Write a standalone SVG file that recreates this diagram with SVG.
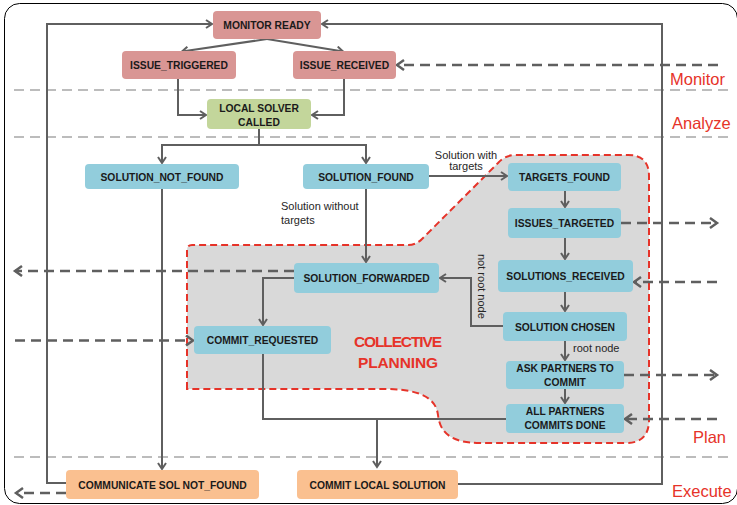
<svg xmlns="http://www.w3.org/2000/svg" width="737" height="505" viewBox="0 0 737 505">
<style>
.node rect{stroke:none}
.pk{fill:#d99694}.gr{fill:#c3d69b}.bl{fill:#92cddc}.or{fill:#fac090}
.nt{font-family:"Liberation Sans",Arial,sans-serif;font-weight:bold;font-size:10.3px;fill:#1a1a1a;text-anchor:middle}
.lb{font-family:"Liberation Sans",Arial,sans-serif;font-size:11px;fill:#262626}
.lane{stroke:#a6a6a6;stroke-width:1.5;stroke-dasharray:10 6;fill:none}
.ln{font-family:"Liberation Sans",Arial,sans-serif;font-size:16.5px;fill:#e63329}
.c{fill:none;stroke:#5f5f5f;stroke-width:2}
.d{fill:none;stroke:#5f5f5f;stroke-width:2.5;stroke-dasharray:10 6}
</style>
<defs>
<marker id="ah" markerUnits="userSpaceOnUse" markerWidth="12" markerHeight="12" refX="7" refY="5" orient="auto"><path d="M1,1 L7,5 L1,9" fill="none" stroke="#5f5f5f" stroke-width="2"/></marker>
<marker id="ahd" markerUnits="userSpaceOnUse" markerWidth="14" markerHeight="14" refX="8" refY="6" orient="auto"><path d="M1,1 L8,6 L1,11" fill="none" stroke="#5f5f5f" stroke-width="2.5"/></marker>
</defs>
<rect x="4.5" y="3.5" width="733" height="500" rx="15" fill="#fff" stroke="#000" stroke-width="1"/>
<g id="lanes">
<line class="lane" x1="14" y1="90" x2="728" y2="90"/>
<line class="lane" x1="14" y1="137" x2="728" y2="137"/>
<line class="lane" x1="14" y1="457" x2="728" y2="457"/>
<text class="ln" x="670" y="85">Monitor</text>
<text class="ln" x="672" y="129">Analyze</text>
<text class="ln" x="693" y="443">Plan</text>
<text class="ln" x="672" y="497">Execute</text>
</g>
<g id="collective">
<path d="M187,389 L187,250 Q187,245 192,245 L408,245 Q416,245 422,239 L498,163 Q505,155 516,155 L628,155 Q649,155 649,176 L649,420 Q649,443 626,443 L480,443 C450,443 440,432 438,415 C436,398 420,390 390,389 Z" fill="#d9d9d9" stroke="#e63329" stroke-width="2" stroke-dasharray="7 4"/>
<text x="398" y="347" font-family="Liberation Sans,Arial,sans-serif" font-weight="bold" font-size="15.5" fill="#e63329" text-anchor="middle" textLength="88">COLLECTIVE</text>
<text x="398" y="368" font-family="Liberation Sans,Arial,sans-serif" font-weight="bold" font-size="15.5" fill="#e63329" text-anchor="middle" textLength="80">PLANNING</text>
</g>
<g id="connectors">
<path class="c" d="M267,39 L182,51.5" marker-end="url(#ah)"/>
<path class="c" d="M267,39 L343,51.5" marker-end="url(#ah)"/>
<path class="c" d="M178,79 L178,115 L206,115" marker-end="url(#ah)"/>
<path class="c" d="M344,79 L344,115 L312,115" marker-end="url(#ah)"/>
<path class="c" d="M259,129 L259,145 L162,145 L162,163" marker-end="url(#ah)"/>
<path class="c" d="M259,145 L366,145 L366,163" marker-end="url(#ah)"/>
<path class="c" d="M66,483 L47,483 L47,24 L212,24" marker-end="url(#ah)"/>
<path class="c" d="M458,484 L662,484 L662,24 L322,24" marker-end="url(#ah)"/>
<path class="d" d="M718,65 L397,65" marker-end="url(#ahd)"/>
<path class="c" d="M429,176 L507,176" marker-end="url(#ah)"/>
<text class="lb" x="466" y="159" text-anchor="middle" font-size="10.5">Solution with</text>
<text class="lb" x="466" y="170" text-anchor="middle" font-size="10.5">targets</text>
<path class="c" d="M565,191 L565,207" marker-end="url(#ah)"/>
<path class="d" d="M621,223 L717,223" marker-end="url(#ahd)"/>
<path class="c" d="M565,238 L565,259" marker-end="url(#ah)"/>
<path class="d" d="M717,282 L634,282" marker-end="url(#ahd)"/>
<path class="c" d="M565,292 L565,311" marker-end="url(#ah)"/>
<path class="c" d="M503,326 L471,326 L471,278 L440,278" marker-end="url(#ah)"/>
<text class="lb" x="477.5" y="254" transform="rotate(90 477.5 254)" font-size="10.5">not root node</text>
<path class="c" d="M366,189 L366,262" marker-end="url(#ah)"/>
<text class="lb" x="281" y="210">Solution without</text>
<text class="lb" x="281" y="224">targets</text>
<path class="d" d="M294,271 L15,271" marker-end="url(#ahd)"/>
<path class="c" d="M294,278 L263,278 L263,325" marker-end="url(#ah)"/>
<path class="d" d="M15,340.5 L193,340.5" marker-end="url(#ahd)"/>
<path class="c" d="M565,341 L565,360" marker-end="url(#ah)"/>
<text class="lb" x="573" y="352" font-size="10.5">root node</text>
<path class="c" d="M565,389 L565,403" marker-end="url(#ah)"/>
<path class="d" d="M624,375 L717,375" marker-end="url(#ahd)"/>
<path class="d" d="M717,419 L625,419" marker-end="url(#ahd)"/>
<path class="c" d="M263,354 L263,419 L377,419"/>
<path class="c" d="M506,419 L377,419 L377,467" marker-end="url(#ah)"/>
<path class="c" d="M162,189 L162,469" marker-end="url(#ah)"/>
<path class="d" d="M66,493 L16,493" marker-end="url(#ahd)"/>
</g>
<g id="n-monitor-ready" class="node"><rect class="pk" x="213" y="11" width="108" height="28" rx="4"/><text class="nt" x="267" y="29">MONITOR READY</text></g>
<g id="n-issue-triggered" class="node"><rect class="pk" x="122" y="51" width="114" height="28" rx="4"/><text class="nt" x="179" y="69">ISSUE_TRIGGERED</text></g>
<g id="n-issue-received" class="node"><rect class="pk" x="293" y="51" width="103" height="28" rx="4"/><text class="nt" x="344.5" y="69">ISSUE_RECEIVED</text></g>
<g id="n-local-solver" class="node"><rect class="gr" x="207" y="99" width="104" height="30" rx="4"/><text class="nt" x="259" y="112">LOCAL SOLVER</text><text class="nt" x="259" y="126">CALLED</text></g>
<g id="n-solution-not-found" class="node"><rect class="bl" x="85" y="164" width="154" height="25" rx="4"/><text class="nt" x="162" y="180.5">SOLUTION_NOT_FOUND</text></g>
<g id="n-solution-found" class="node"><rect class="bl" x="303" y="164" width="126" height="25" rx="4"/><text class="nt" x="366" y="180.5">SOLUTION_FOUND</text></g>
<g id="n-targets-found" class="node"><rect class="bl" x="508" y="163" width="113" height="28" rx="4"/><text class="nt" x="564.5" y="181">TARGETS_FOUND</text></g>
<g id="n-issues-targeted" class="node"><rect class="bl" x="508" y="208" width="113" height="30" rx="4"/><text class="nt" x="564.5" y="227">ISSUES_TARGETED</text></g>
<g id="n-solutions-received" class="node"><rect class="bl" x="498" y="260" width="135" height="32" rx="4"/><text class="nt" x="565.5" y="280">SOLUTIONS_RECEIVED</text></g>
<g id="n-solution-chosen" class="node"><rect class="bl" x="503" y="312" width="124" height="29" rx="4"/><text class="nt" x="565" y="330.5">SOLUTION CHOSEN</text></g>
<g id="n-ask-partners" class="node"><rect class="bl" x="506" y="361" width="118" height="28" rx="4"/><text class="nt" x="565" y="372">ASK PARTNERS TO</text><text class="nt" x="565" y="386">COMMIT</text></g>
<g id="n-all-partners" class="node"><rect class="bl" x="506" y="404" width="118" height="29" rx="4"/><text class="nt" x="565" y="415">ALL PARTNERS</text><text class="nt" x="565" y="429">COMMITS DONE</text></g>
<g id="n-solution-forwarded" class="node"><rect class="bl" x="294" y="263" width="145" height="30" rx="4"/><text class="nt" x="366.5" y="282">SOLUTION_FORWARDED</text></g>
<g id="n-commit-requested" class="node"><rect class="bl" x="194" y="326" width="137" height="28" rx="4"/><text class="nt" x="262.5" y="344">COMMIT_REQUESTED</text></g>
<g id="n-communicate" class="node"><rect class="or" x="66" y="470" width="193" height="29" rx="4"/><text class="nt" x="162.5" y="488.5">COMMUNICATE SOL NOT_FOUND</text></g>
<g id="n-commit-local" class="node"><rect class="or" x="297" y="470" width="161" height="29" rx="4"/><text class="nt" x="377.5" y="488.5">COMMIT LOCAL SOLUTION</text></g>
</svg>
